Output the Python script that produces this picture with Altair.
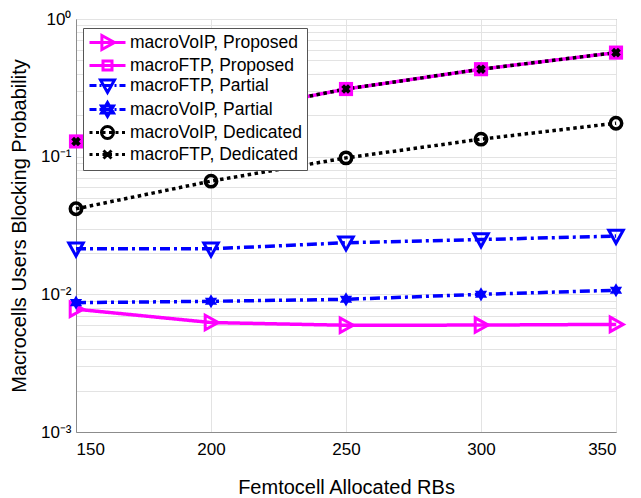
import altair as alt
import pandas as pd
import math
import re

# ---------------- data ----------------
rbs = [150, 200, 250, 300, 350]
voip_proposed = [0.0078, 0.00624, 0.00596, 0.00598, 0.00605]
ftp_proposed = [0.129, 0.200, 0.310, 0.432, 0.570]
ftp_partial = [0.0214, 0.0214, 0.0237, 0.0250, 0.0265]
voip_partial = [0.0087, 0.0089, 0.0092, 0.0100, 0.0107]
voip_dedicated = [0.0418, 0.0664, 0.098, 0.134, 0.175]
ftp_dedicated = [0.129, 0.200, 0.310, 0.432, 0.570]

series_names = [
    "macroVoIP, Proposed",
    "macroFTP, Proposed",
    "macroFTP, Partial",
    "macroVoIP, Partial",
    "macroVoIP, Dedicated",
    "macroFTP, Dedicated",
]
series_values = [voip_proposed, ftp_proposed, ftp_partial, voip_partial,
                 voip_dedicated, ftp_dedicated]

rows = []
for name, vals in zip(series_names, series_values):
    for x, v in zip(rbs, vals):
        rows.append({"rbs": x, "prob": v, "series": name})
df = pd.DataFrame(rows)

# ---------------- styles ----------------
MAGENTA = "#ff00ff"
BLUE = "#0000ff"
BLACK = "#000000"
colors = [MAGENTA, MAGENTA, BLUE, BLUE, BLACK, BLACK]
DOT = [3.5, 3.5]
DASHDOT = [10, 4, 3, 4]
dashes = [[1, 0], [1, 0], DASHDOT, DASHDOT, DOT, DOT]


def hexagram(r, cx=0.0):
    pts1, pts2 = [], []
    for k in range(3):
        a1 = math.radians(-90 + 120 * k)
        a2 = math.radians(90 + 120 * k)
        pts1.append((cx + r * math.cos(a1), r * math.sin(a1)))
        pts2.append((cx + r * math.cos(a2), r * math.sin(a2)))

    def tri(p):
        return "M" + "L".join(f"{a:.3f},{b:.3f}" for a, b in p) + "Z"
    return tri(pts1) + tri(pts2)


def transform_path(path, s, cx):
    nums = re.findall(r"-?\d+\.?\d*|[A-Za-z]", path)
    out = ""
    coord_idx = 0
    for tok in nums:
        if tok.isalpha():
            out += tok
            coord_idx = 0
            continue
        v = float(tok) * s
        if coord_idx % 2 == 0:
            v += cx
        if coord_idx % 2 == 1:
            out += ","
        elif coord_idx > 0:
            out += " "
        out += f"{v:.3f}"
        coord_idx += 1
    return out


def dashed_line(pattern_px, unit_px, start, end):
    if pattern_px is None:
        return f"M{start:.3f},0H{end:.3f}"
    pat = [p / unit_px for p in pattern_px]
    segs = []
    pos = start
    i = 0
    while pos < end - 1e-6:
        ln = pat[i % len(pat)]
        if i % 2 == 0:
            e = min(pos + ln, end)
            segs.append(f"M{pos:.3f},0H{e:.3f}")
        pos += ln
        i += 1
    return "".join(segs)


UNIT = 8.0               # px per path unit in the legend (sqrt(size)/2)
L_START, L_END = -1.0, -1.0 + 36.0 / UNIT
CX = (L_START + L_END) / 2
legend_markers = ["tri_right", "square", "tri_down", "hexagram", "circle", "x"]
legend_dash = [None, None, [7, 3, 2, 3], [7, 3, 2, 3], [3, 3.5], [3, 3.5]]
legend_paths = []
for mk, dp in zip(legend_markers, legend_dash):
    line = dashed_line(dp, UNIT, L_START, L_END)
    if mk == "circle":
        r = 6.0 / UNIT
        mp = (f"M{CX + r:.3f},0A{r:.3f},{r:.3f} 0 1,1 {CX - r:.3f},0"
              f"A{r:.3f},{r:.3f} 0 1,1 {CX + r:.3f},0Z")
    elif mk == "hexagram":
        mp = hexagram(7.0 / UNIT, CX)
    elif mk == "tri_right":
        mp = transform_path("M-0.8,-1L1,0L-0.8,1Z", 7.0 / UNIT, CX)
    elif mk == "square":
        mp = transform_path("M-1,-1L1,-1L1,1L-1,1Z", 4.5 / UNIT, CX)
    elif mk == "tri_down":
        mp = transform_path("M-1,-0.8L1,-0.8L0,1Z", 7.0 / UNIT, CX)
    else:
        mp = transform_path("M-1,-1L1,1M-1,1L1,-1", 4.0 / UNIT, CX)
    legend_paths.append(line + mp)

x_enc = alt.X("rbs:Q", scale=alt.Scale(domain=[150, 350], nice=False, zero=False),
              axis=alt.Axis(values=rbs, title="Femtocell Allocated RBs",
                            grid=True, tickSize=0, labelPadding=9,
                            titlePadding=20))

yvals = []
for d in [1e-3, 1e-2, 1e-1]:
    for m in range(1, 10):
        yvals.append(round(d * m, 6))
yvals.append(1.0)

y_enc = alt.Y("prob:Q",
              scale=alt.Scale(type="log", domain=[1e-3, 1.0], nice=False),
              axis=alt.Axis(values=yvals, title="Macrocells Users Blocking Probability",
                            labelExpr="datum.value == 1 ? '10⁰' : datum.value == 0.1 ? '10⁻¹' : datum.value == 0.01 ? '10⁻²' : datum.value == 0.001 ? '10⁻³' : ''",
                            grid=True, tickSize=0, labelPadding=5,
                            titlePadding=11))

base = alt.Chart(df).encode(x=x_enc, y=y_enc)

order = [0, 2, 3, 4, 1, 5]
line_layers = []
marker_layers = []
marker_specs = {
    0: dict(shape="M-0.8,-1L1,0L-0.8,1Z", size=210, filled=False, strokeWidth=3),
    1: dict(shape="square", size=200, filled=True, strokeWidth=1),
    2: dict(shape="M-1,-0.8H1L0,1Z", size=210, filled=False, strokeWidth=3),
    3: dict(shape=hexagram(1.0), size=200, filled=True, strokeWidth=1.5),
    4: dict(shape="circle", size=130, filled=False, strokeWidth=3.5),
    5: dict(shape="M-1,-1L1,1M-1,1L1,-1", size=45, filled=False, strokeWidth=4),
}
for i in order:
    name = series_names[i]
    sub = base.transform_filter(alt.datum.series == name)
    line_layers.append(sub.mark_line(color=colors[i], strokeWidth=3.5,
                                     strokeDash=dashes[i]))
for i in order:
    name = series_names[i]
    sub = base.transform_filter(alt.datum.series == name)
    marker_layers.append(sub.mark_point(color=colors[i], opacity=1, **marker_specs[i]))

legend_def = alt.Legend(title=None, orient="none", legendX=7, legendY=9)
legend_layer = base.transform_filter("false").mark_point(
    filled=False, opacity=1, strokeWidth=2.5
).encode(
    stroke=alt.Stroke("series:N",
                      scale=alt.Scale(domain=series_names, range=colors),
                      legend=legend_def),
    shape=alt.Shape("series:N",
                    scale=alt.Scale(domain=series_names, range=legend_paths),
                    legend=legend_def),
)

chart = alt.layer(*line_layers, *marker_layers, legend_layer).properties(
    width=540, height=413,
    autosize=alt.AutoSizeParams(type="none"),
    padding={"left": 76, "top": 19, "right": 25, "bottom": 66},
).configure_view(
    stroke="#8c8c8c", strokeWidth=1
).configure_axis(
    labelFont="Liberation Sans", titleFont="Liberation Sans",
    labelFontSize=17, titleFontSize=20, labelColor="black", titleColor="black",
    titleFontWeight="normal", domainColor="#8c8c8c", gridColor="#e3e3e3",
    gridWidth=1,
).configure_legend(
    labelFont="Liberation Sans", labelFontSize=17.5, labelColor="black",
    symbolSize=256, symbolStrokeWidth=3, symbolOpacity=1,
    strokeColor="#555555", fillColor="white", padding=5,
    rowPadding=-3, labelOffset=23, cornerRadius=0, labelLimit=400,
)

chart.save("out.html", embed_options={"renderer": "svg", "actions": False})
